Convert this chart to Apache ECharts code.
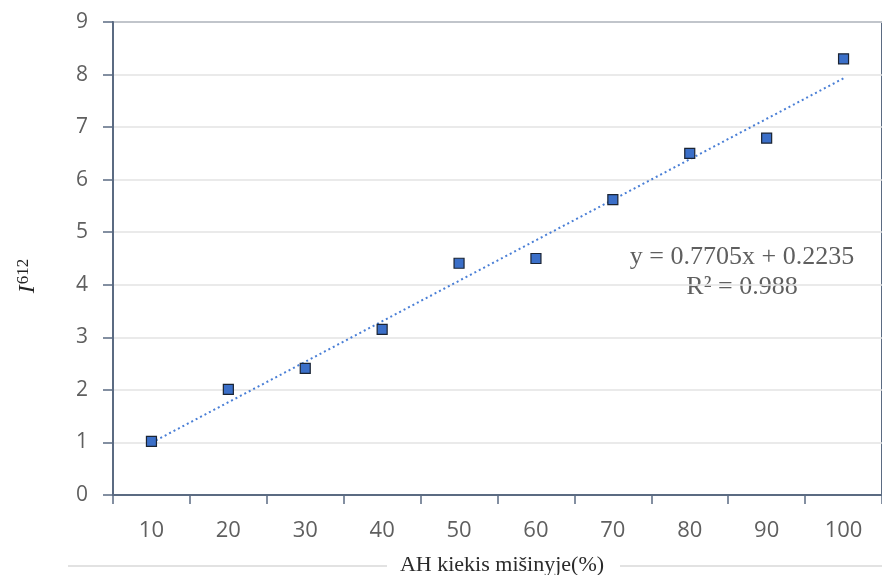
<!DOCTYPE html>
<html><head><meta charset="utf-8">
<script src="https://cdn.jsdelivr.net/npm/echarts@6/dist/echarts.min.js"></script>
<style>html,body{margin:0;padding:0;background:#fff}#c{width:882px;height:575px}</style>
</head><body><div id="c"></div>
<script>
var categories = ['10','20','30','40','50','60','70','80','90','100'];
var values = [1.02, 2.01, 2.41, 3.15, 4.41, 4.50, 5.62, 6.50, 6.79, 8.30];
var trendSlope = 0.7705;
var trendIntercept = 0.2235;
var rSquared = 0.988;
var yTicks = [0, 9, 1];
var xTitle = 'AH kiekis mišinyje(%)';

var trendData = [
  [categories[0], trendSlope * 1 + trendIntercept],
  [categories[categories.length - 1], trendSlope * categories.length + trendIntercept]
];

var chart = echarts.init(document.getElementById('c'));
var axisColor = '#5b6b82';
var textColor = '#5f5f5f';
chart.setOption({
  animation: false,
  grid: {left: 113, top: 22, bottom: 80, right: -13, show: true, borderColor: axisColor, borderWidth: 2, backgroundColor: 'transparent'},
  xAxis: {
    type: 'category', data: categories, boundaryGap: true,
    axisLine: {lineStyle: {color: axisColor, width: 2}},
    axisTick: {show: true, length: 9, lineStyle: {color: axisColor, width: 1.5}},
    axisLabel: {color: textColor, fontSize: 22, fontFamily: 'Open Sans', margin: 25},
    splitLine: {show: false}
  },
  yAxis: {
    type: 'value', min: yTicks[0], max: yTicks[1], interval: yTicks[2],
    axisLine: {show: true, lineStyle: {color: axisColor, width: 2}},
    axisTick: {show: true, length: 10, lineStyle: {color: axisColor, width: 1.5}},
    axisLabel: {color: textColor, fontSize: 21, fontFamily: 'Open Sans', margin: 25},
    splitLine: {lineStyle: {color: '#e3e3e3', width: 1.5}}
  },
  series: [
    {
      type: 'line', data: trendData, symbol: 'none', silent: true,
      lineStyle: {color: '#4a7fd6', width: 2, type: [2, 3]}, z: 2
    },
    {
      type: 'scatter', data: values, symbol: 'rect', symbolSize: [10, 10],
      itemStyle: {color: '#3b6fc8', borderColor: '#1b2433', borderWidth: 1.2, opacity: 1}, z: 3
    }
  ],
  graphic: [
    {type: 'text', x: 742, y: 257, style: {text: 'y = ' + trendSlope + 'x + ' + trendIntercept, font: '26px "Liberation Serif"', fill: textColor, align: 'center', verticalAlign: 'middle'}},
    {type: 'text', x: 742, y: 287, style: {text: 'R² = ' + rSquared, font: '26px "Liberation Serif"', fill: textColor, align: 'center', verticalAlign: 'middle'}},
    {type: 'text', x: 502, y: 565, style: {text: xTitle, font: '22px "Liberation Serif"', fill: '#2a2a2a', align: 'center', verticalAlign: 'middle'}},
    {type: 'line', shape: {x1: 68, y1: 566, x2: 387, y2: 566}, style: {stroke: '#d9d9d9', lineWidth: 1.5}},
    {type: 'line', shape: {x1: 620, y1: 566, x2: 882, y2: 566}, style: {stroke: '#d9d9d9', lineWidth: 1.5}},
    {type: 'text', x: 28, y: 276, rotation: Math.PI / 2, style: {
      text: '{i|I}{s|612}', align: 'center', verticalAlign: 'middle',
      rich: {
        i: {fontStyle: 'italic', fontFamily: 'Liberation Serif', fontSize: 24, fill: '#222'},
        s: {fontFamily: 'Liberation Serif', fontSize: 17, fill: '#222', verticalAlign: 'top', padding: [0, 0, 9, 1]}
      }
    }}
  ]
});
</script></body></html>
